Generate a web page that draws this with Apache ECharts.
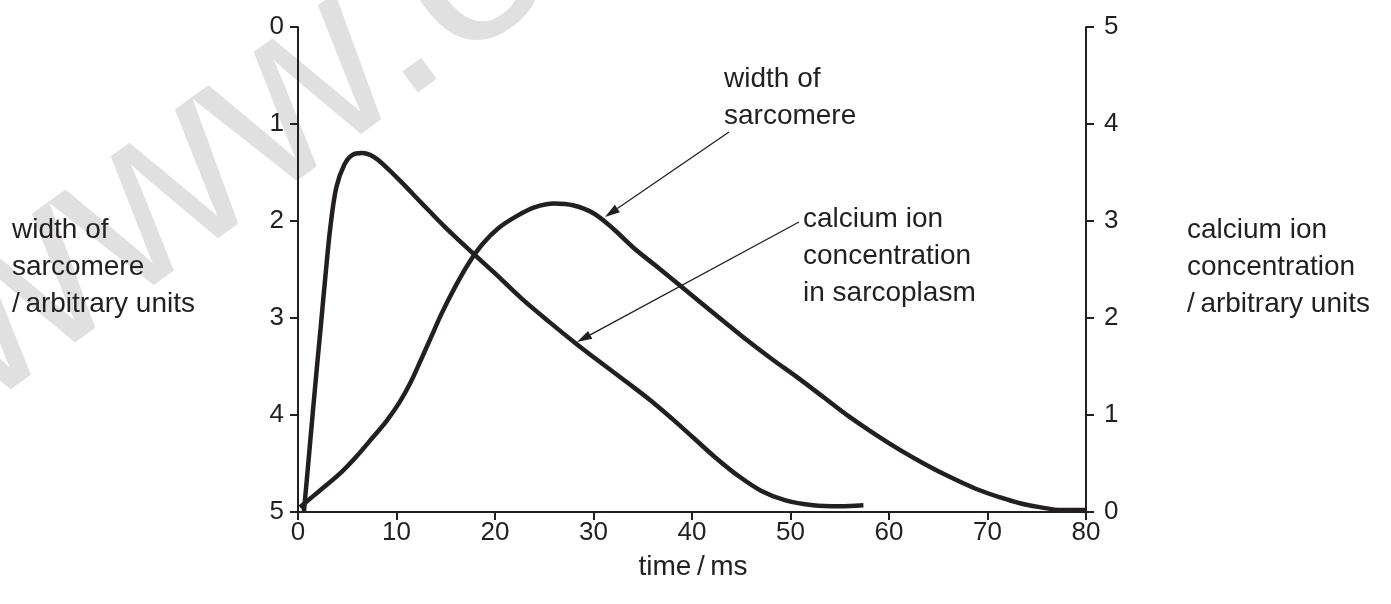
<!DOCTYPE html>
<html>
<head>
<meta charset="utf-8">
<script src="https://cdn.jsdelivr.net/npm/echarts@6/dist/echarts.min.js"></script>
<style>
  html, body { margin: 0; padding: 0; background: #fff; }
  #chart { width: 1391px; height: 604px; }
</style>
</head>
<body>
<div id="chart"></div>
<script>
// tick labels
var xTicks = [0, 10, 20, 30, 40, 50, 60, 70, 80];
var leftTicks = [0, 1, 2, 3, 4, 5];
var rightTicks = [0, 1, 2, 3, 4, 5];

// calcium ion concentration in sarcoplasm (right axis): [time ms, value]
var calciumData = [
  [0.6, 0], [1.2, 0.68], [1.8, 1.36], [2.3, 1.9], [2.8, 2.45], [3.3, 2.95],
  [3.9, 3.35], [4.7, 3.58], [5.5, 3.68], [6.5, 3.70], [7.7, 3.66], [9.0, 3.55],
  [10.5, 3.40], [12.5, 3.19], [14.8, 2.95], [17.3, 2.71], [19.9, 2.47],
  [22.6, 2.21], [25.5, 1.96], [28.3, 1.73], [31, 1.52], [33.5, 1.33],
  [35.8, 1.15], [38, 0.96], [40.2, 0.76], [42.4, 0.56], [44.6, 0.38],
  [47, 0.22], [49.5, 0.12], [52.3, 0.07], [55, 0.06], [57.4, 0.07]
];

// width of sarcomere (left axis, inverted): [time ms, value]
var sarcomereData = [
  [0.2, 4.95], [2.2, 4.78], [4.3, 4.6], [6, 4.42], [7.6, 4.23], [9.0, 4.06],
  [10.3, 3.87], [11.4, 3.67], [12.4, 3.45], [13.5, 3.2], [14.6, 2.95],
  [15.9, 2.69], [17.3, 2.44], [18.8, 2.23], [20.4, 2.07], [22.2, 1.95],
  [24, 1.86], [26, 1.82], [28, 1.84], [30, 1.92], [32, 2.08], [34, 2.27],
  [36.3, 2.46], [38.6, 2.65], [41, 2.85], [43.3, 3.04], [45.6, 3.23],
  [48.2, 3.43], [50.8, 3.62], [53.4, 3.82], [56, 4.02], [58.6, 4.20],
  [61.1, 4.36], [63.7, 4.51], [66.2, 4.64], [68.8, 4.76], [71.3, 4.85],
  [73.3, 4.91], [75.3, 4.95], [77.5, 4.98], [80, 4.98]
];

var ink = '#231f20';
var font = '"Liberation Sans", Arial, Helvetica, sans-serif';

// thin arrow with a filled head, in pixels
function arrow(x1, y1, x2, y2) {
  var ang = Math.atan2(y2 - y1, x2 - x1);
  var len = 15, half = 4.5;
  var bx = x2 - len * Math.cos(ang), by = y2 - len * Math.sin(ang);
  var px = -Math.sin(ang) * half, py = Math.cos(ang) * half;
  return [{
    type: 'line',
    shape: { x1: x1, y1: y1, x2: bx, y2: by },
    style: { stroke: ink, lineWidth: 1.3 }
  }, {
    type: 'polygon',
    shape: { points: [[x2, y2], [bx + px, by + py], [bx - px, by - py]] },
    style: { fill: ink }
  }];
}

function label(x, y, text, align) {
  return {
    type: 'text', x: x, y: y,
    style: {
      text: text, font: '28px ' + font, fill: ink, lineHeight: 37,
      textAlign: align || 'left', textVerticalAlign: 'top'
    }
  };
}

var myEcharts = echarts.init(document.getElementById('chart'));

var graphics = [
  {
    type: 'text', x: -58, y: 356, rotation: 0.63, z: -10, silent: true,
    style: { text: 'www.e', font: '245px ' + font, fill: '#e0e0e0', textVerticalAlign: 'middle' }
  },
  label(12, 212, 'width of\nsarcomere\n/\u2009arbitrary units'),
  label(1187, 212, 'calcium ion\nconcentration\n/\u2009arbitrary units'),
  label(724, 61, 'width of\nsarcomere'),
  label(803, 201, 'calcium ion\nconcentration\nin sarcoplasm'),
  label(693, 549, 'time\u2009/\u2009ms', 'center')
].concat(arrow(729, 132, 605, 217)).concat(arrow(799, 222, 577, 342));

var axisFont = { color: ink, fontSize: 26, fontFamily: font };

myEcharts.setOption({
  animation: false,
  backgroundColor: '#fff',
  grid: { left: 298, right: 305, top: 27, bottom: 92 },
  xAxis: {
    type: 'value', min: xTicks[0], max: xTicks[xTicks.length - 1], interval: 10,
    axisLine: { onZero: false, lineStyle: { color: ink, width: 2 } },
    axisTick: { inside: false, length: 8, lineStyle: { color: ink, width: 2 } },
    axisLabel: Object.assign({ margin: 8 }, axisFont),
    splitLine: { show: false }
  },
  yAxis: [{
    type: 'value', inverse: true, position: 'left',
    min: leftTicks[0], max: leftTicks[leftTicks.length - 1], interval: 1,
    axisLine: { show: true, onZero: false, lineStyle: { color: ink, width: 2 } },
    axisTick: { show: true, inside: false, length: 8, lineStyle: { color: ink, width: 2 } },
    axisLabel: Object.assign({ margin: 14 }, axisFont),
    splitLine: { show: false }
  }, {
    type: 'value', position: 'right',
    min: rightTicks[0], max: rightTicks[rightTicks.length - 1], interval: 1,
    axisLine: { show: true, onZero: false, lineStyle: { color: ink, width: 2 } },
    axisTick: { show: true, inside: false, length: 8, lineStyle: { color: ink, width: 2 } },
    axisLabel: Object.assign({ margin: 18 }, axisFont),
    splitLine: { show: false }
  }],
  series: [{
    name: 'calcium ion concentration in sarcoplasm',
    type: 'line', yAxisIndex: 1, smooth: 0.35, showSymbol: false,
    lineStyle: { color: ink, width: 4.5 },
    data: calciumData
  }, {
    name: 'width of sarcomere',
    type: 'line', yAxisIndex: 0, smooth: 0.35, showSymbol: false,
    lineStyle: { color: ink, width: 4.5 },
    data: sarcomereData
  }],
  graphic: graphics
});
</script>
</body>
</html>
